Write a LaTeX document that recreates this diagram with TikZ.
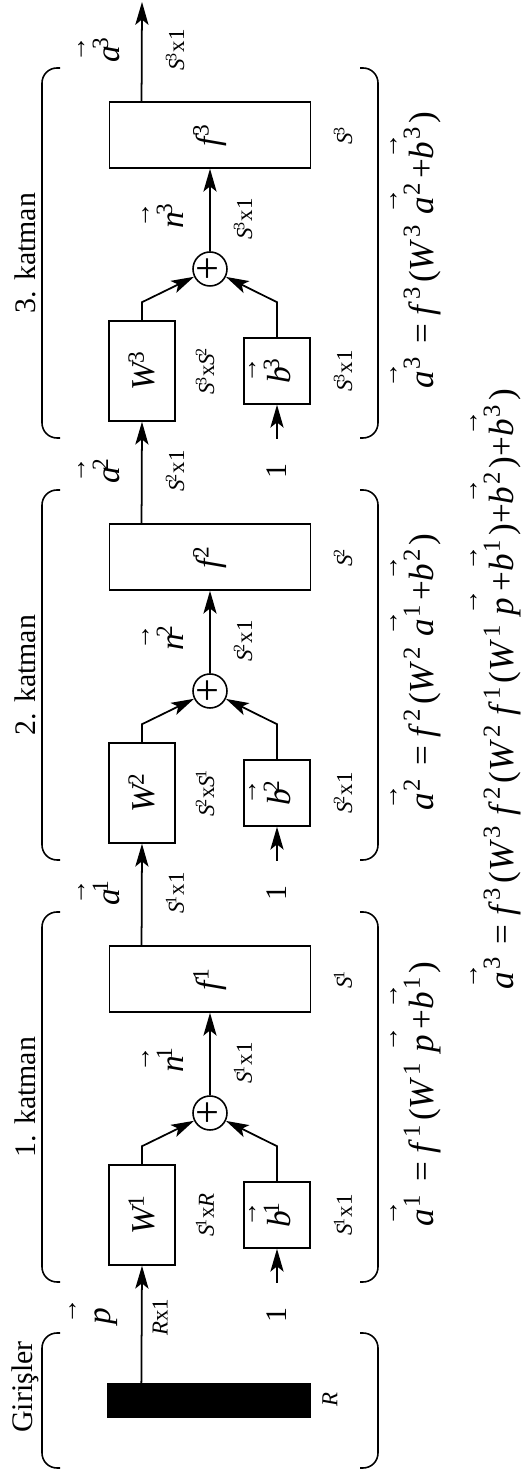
\documentclass[tikz,border=0pt]{standalone}
\usepackage{fontspec}
\setmainfont{Liberation Serif}
\usetikzlibrary{arrows.meta, calc}
\tikzset{>={Stealth[length=13pt,width=7.5pt,inset=3pt]}}
\tikzset{
    block/.style = {rectangle, draw, line width=0.9pt, inner sep=0pt,
                        font=\fontsize{19}{22}\selectfont},
    wbox/.style = {block, minimum width=2cm, minimum height=1.32cm},
    bbox/.style = {block, minimum width=1.32cm, minimum height=1.32cm},
    fcell/.style = {block, minimum width=1.32cm, minimum height=4.02cm},
    sumnode/.style = {circle, draw, line width=0.9pt, inner sep=0pt,
                        minimum size=0.68cm, font=\fontsize{24}{24}\selectfont},
    dim/.style = {font=\fontsize{13}{15}\selectfont, inner sep=0pt},
    vlabel/.style = {font=\fontsize{19}{22}\selectfont, inner sep=0pt},
    title/.style = {font=\fontsize{17}{20}\selectfont, inner sep=0pt},
    eq/.style = {font=\fontsize{20}{24}\selectfont, inner sep=0pt, anchor=base},
    bracket/.style = {line width=0.9pt, rounded corners=0.3cm}
}
\newcommand{\sps}[2]{\textit{#1}\kern-0.1em\textsuperscript{#2}}
\newcommand{\esp}[2]{\textit{#1}\kern0.05em\textsuperscript{#2}\kern0.1em}
\newcommand{\varrow}{\smash{\makebox[0pt][l]{\raisebox{1.0em}{\fontsize{15}{15}\selectfont →}}}}
\newcommand{\vect}[2]{\varrow\sps{#1}{#2}}
\newcommand{\evect}[2]{\varrow\esp{#1}{#2}}

\begin{document}
\begin{tikzpicture}[x=0.02cm, y=0.02cm, rotate=90, transform shape, line width=1pt]
	\useasboundingbox (0,0) rectangle (1470,-525);
	% brackets
	\draw[bracket] (2,-60) -- (2,-42) -- (137,-42) -- (137,-60);
	\draw[bracket] (2,-360) -- (2,-378) -- (137,-378) -- (137,-360);
	\draw[bracket] (188,-60) -- (188,-42) -- (558,-42) -- (558,-60);
	\draw[bracket] (188,-360) -- (188,-378) -- (558,-378) -- (558,-360);
	\draw[bracket] (610,-60) -- (610,-42) -- (980,-42) -- (980,-60);
	\draw[bracket] (610,-360) -- (610,-378) -- (980,-378) -- (980,-360);
	\draw[bracket] (1032,-60) -- (1032,-42) -- (1402,-42) -- (1402,-60);
	\draw[bracket] (1032,-360) -- (1032,-378) -- (1402,-378) -- (1402,-360);
	% inputs
	\node (inp) [rectangle, draw, fill=black, inner sep=0pt, minimum width=0.66cm,
		minimum height=4.04cm] at (69.5,-209) {};
	\node (gir) [title] at (83,-25) {Girişler};
	\node (rlen) [dim] at (70,-330) {\textit{R}};
	\node (p) [vlabel] at (153,-106) {\vect{p}{}};
	\node (pdim) [dim] at (153,-160) {\textit{R}x1};
	% layer 1
	\node (W1) [wbox] at (255,-142) {\sps{W}{1}};
	\node (b1) [bbox] at (255,-277) {\vect{b}{1}};
	\node (s1) [sumnode] at (357,-210) {+};
	\node (f1) [fcell] at (491,-210) {\sps{f}{1}};
	\node (one1) [title] at (155,-277) {1};
	\coordinate (in1) at (187,-277);
	\draw [->] ($(inp.north east)!0.168!(inp.south east)$) -- (W1.west);
	\draw [->] (in1) -- (b1);
	\draw [->] (W1.east) -- ++(18,0) -- (s1);
	\draw [->] (b1.east) -- ++(35,0) -- (s1);
	\draw [->] (s1) -- (f1);
	\node (W1dim) [dim] at (255,-205) {\sps{S}{1}x\textit{R}};
	\node (b1dim) [dim] at (255,-343) {\sps{S}{1}x1};
	\node (n1) [vlabel] at (410,-170) {\vect{n}{1}};
	\node (n1dim) [dim] at (407,-243) {\sps{S}{1}x1};
	\node (f1dim) [dim] at (490,-343) {\sps{S}{1}};
	\node (k1) [title] at (373,-25) {1. katman};
	\node (eq1) [eq] at (376,-433) {\evect{a}{1}\ =\ \esp{f}{1}(\esp{W}{1}\,\evect{p}{}+\evect{b}{1})};
	% layer 2
	\node (W2) [wbox] at (677,-142) {\sps{W}{2}};
	\node (b2) [bbox] at (677,-277) {\vect{b}{2}};
	\node (s2) [sumnode] at (779,-210) {+};
	\node (f2) [fcell] at (913,-210) {\sps{f}{2}};
	\node (one2) [title] at (577,-277) {1};
	\coordinate (in2) at (609,-277);
	\draw [->] ($(f1.north east)!0.162!(f1.south east)$) -- (W2.west);
	\draw [->] (in2) -- (b2);
	\draw [->] (W2.east) -- ++(18,0) -- (s2);
	\draw [->] (b2.east) -- ++(35,0) -- (s2);
	\draw [->] (s2) -- (f2);
	\node (a1) [vlabel] at (577,-106) {\vect{a}{1}};
	\node (a1dim) [dim] at (577,-175) {\sps{S}{1}x1};
	\node (W2dim) [dim] at (677,-205) {\sps{S}{2}x\sps{S}{1}};
	\node (b2dim) [dim] at (677,-343) {\sps{S}{2}x1};
	\node (n2) [vlabel] at (832,-170) {\vect{n}{2}};
	\node (n2dim) [dim] at (829,-243) {\sps{S}{2}x1};
	\node (f2dim) [dim] at (912,-343) {\sps{S}{2}};
	\node (k2) [title] at (795,-25) {2. katman};
	\node (eq2) [eq] at (798,-433) {\evect{a}{2}\ =\ \esp{f}{2}(\esp{W}{2}\,\evect{a}{1}+\evect{b}{2})};
	% layer 3
	\node (W3) [wbox] at (1099,-142) {\sps{W}{3}};
	\node (b3) [bbox] at (1099,-277) {\vect{b}{3}};
	\node (s3) [sumnode] at (1201,-210) {+};
	\node (f3) [fcell] at (1335,-210) {\sps{f}{3}};
	\node (one3) [title] at (999,-277) {1};
	\coordinate (in3) at (1031,-277);
	\coordinate (out) at (1468,-142);
	\draw [->] ($(f2.north east)!0.162!(f2.south east)$) -- (W3.west);
	\draw [->] (in3) -- (b3);
	\draw [->] (W3.east) -- ++(18,0) -- (s3);
	\draw [->] (b3.east) -- ++(35,0) -- (s3);
	\draw [->] (s3) -- (f3);
	\draw [->] ($(f3.north east)!0.162!(f3.south east)$) -- (out);
	\node (a2) [vlabel] at (999,-106) {\vect{a}{2}};
	\node (a2dim) [dim] at (999,-175) {\sps{S}{2}x1};
	\node (W3dim) [dim] at (1099,-205) {\sps{S}{3}x\sps{S}{2}};
	\node (b3dim) [dim] at (1099,-343) {\sps{S}{3}x1};
	\node (n3) [vlabel] at (1254,-170) {\vect{n}{3}};
	\node (n3dim) [dim] at (1251,-243) {\sps{S}{3}x1};
	\node (f3dim) [dim] at (1334,-343) {\sps{S}{3}};
	\node (a3) [vlabel] at (1420,-106) {\vect{a}{3}};
	\node (a3dim) [dim] at (1420,-175) {\sps{S}{3}x1};
	\node (k3) [title] at (1217,-25) {3. katman};
	\node (eq3) [eq] at (1220,-433) {\evect{a}{3}\ =\ \esp{f}{3}(\esp{W}{3}\,\evect{a}{2}+\evect{b}{3})};
	% whole network
	\node (eqall) [eq] at (781,-513) {\evect{a}{3}\ =\ \esp{f}{3}(\esp{W}{3}\,\esp{f}{2}(\esp{W}{2}\,\esp{f}{1}(\esp{W}{1}\,\evect{p}{}+\evect{b}{1})+\evect{b}{2})+\evect{b}{3})};
\end{tikzpicture}
\end{document}
